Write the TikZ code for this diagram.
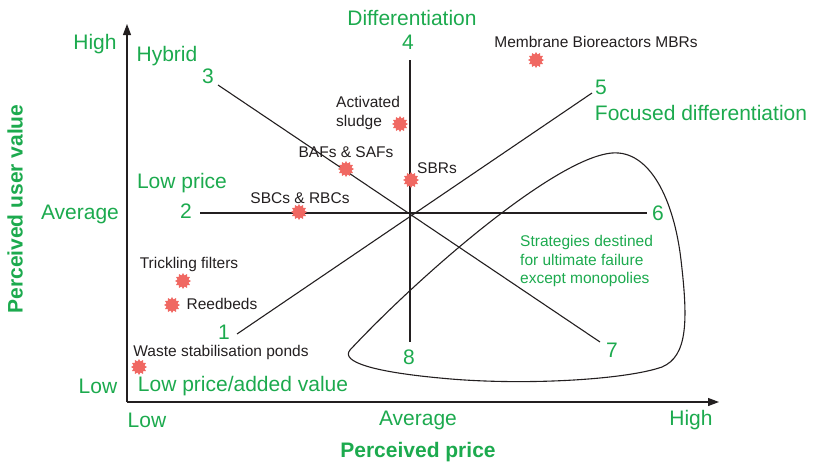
\documentclass[tikz,border=0pt]{standalone}
\usepackage{fontspec}
\setmainfont{Liberation Sans}
\usetikzlibrary{arrows.meta,shapes.geometric}
\definecolor{lblgreen}{RGB}{28,170,78}
\definecolor{starred}{RGB}{240,104,98}
\definecolor{inkgray}{RGB}{35,31,32}
\tikzset{
	bigtxt/.style={text=lblgreen, inner sep=0pt, font=\fontsize{21}{24}\selectfont},
	axtitle/.style={text=lblgreen, inner sep=0pt, font=\fontsize{21}{24}\selectfont\bfseries},
	smalltxt/.style={text=inkgray, inner sep=0pt, font=\fontsize{15.5}{18.5}\selectfont},
	plant/.style={star, star points=12, star point ratio=1.4, minimum size=16pt, inner sep=0pt, fill=starred, draw=none},
	ray/.style={line width=1.1pt, color=inkgray},
}

\begin{document}
\begin{tikzpicture}[x=1pt, y=-1pt]
		%%%%% START %%%%%
		\useasboundingbox (0, 0) rectangle (813, 463);
		
		% axes
		\coordinate (o) at (127, 402);
		\coordinate (ytop) at (127, 24);
		\coordinate (xend) at (719, 402);
		\draw[line width=1.1pt, color=inkgray, -{Triangle[length=11pt, width=8pt]}] (o) -- (ytop);
		\draw[line width=1.1pt, color=inkgray, -{Triangle[length=11pt, width=8pt]}] (o) -- (xend);
		
		\node[bigtxt] (yhigh) at (95, 44) {High};
		\node[bigtxt] (yavg) at (80, 214) {Average};
		\node[bigtxt] (ylow) at (98, 386) {Low};
		\node[bigtxt] (xlow) at (147, 420) {Low};
		\node[bigtxt] (xavg) at (418, 420) {Average};
		\node[bigtxt] (xhigh) at (691, 420) {High};
		\node[axtitle] (xtitle) at (418, 452) {Perceived price};
		\node[axtitle, rotate=90] (ytitle) at (15, 209) {Perceived user value};
		
		% strategy clock
		\coordinate (e1) at (237, 334);
		\coordinate (e2) at (200, 213);
		\coordinate (e3) at (218, 85);
		\coordinate (e4) at (410, 60);
		\coordinate (e5) at (592, 93);
		\coordinate (e6) at (647, 213);
		\coordinate (e7) at (600, 342);
		\coordinate (e8) at (410, 342);
		\draw[ray] (e1) -- (e5);
		\draw[ray] (e2) -- (e6);
		\draw[ray] (e3) -- (e7);
		\draw[ray] (e4) -- (e8);
		
		\node[bigtxt] (n1) at (224, 332) {1};
		\node[bigtxt] (n2) at (186, 211) {2};
		\node[bigtxt] (n3) at (208, 76) {3};
		\node[bigtxt] (n4) at (408, 42) {4};
		\node[bigtxt] (n5) at (601, 87) {5};
		\node[bigtxt] (n6) at (658, 213) {6};
		\node[bigtxt] (n7) at (612, 350) {7};
		\node[bigtxt] (n8) at (409, 357) {8};
		
		\node[bigtxt] (lowadd) at (243, 386) {Low price/added value};
		\node[bigtxt] (lowprice) at (182, 183) {Low price};
		\node[bigtxt] (hybrid) at (167, 56) {Hybrid};
		\node[bigtxt] (diff) at (412, 18) {Differentiation};
		\node[bigtxt] (focus) at (701, 113) {Focused differentiation};
		
		% failure zone
		\draw[line width=1.1pt, color=inkgray] (350, 350) .. controls (420, 275) and (555, 158) .. (612, 153)
			.. controls (650, 150) and (674, 200) .. (681, 260)
			.. controls (688, 320) and (688, 356) .. (662, 367)
			.. controls (625, 380) and (520, 386) .. (440, 378)
			.. controls (375, 372) and (340, 362) .. (350, 350);
		\node[text=lblgreen, inner sep=0pt, font=\fontsize{15.5}{18.5}\selectfont, align=left, anchor=west] (fail) at (520, 261) {Strategies destined\\for ultimate failure\\except monopolies};
		
		% processes
		\node[plant] (mbr) at (536, 60) {};
		\node[smalltxt] (mbrlbl) at (596, 42) {Membrane Bioreactors MBRs};
		\node[plant] (as) at (400, 124) {};
		\node[smalltxt, align=left, anchor=west] (aslbl) at (336, 113) {Activated\\sludge};
		\node[plant] (baf) at (346, 169) {};
		\node[smalltxt] (baflbl) at (346, 152) {BAFs \& SAFs};
		\node[plant] (sbr) at (411, 180) {};
		\node[smalltxt] (sbrlbl) at (437, 168) {SBRs};
		\node[plant] (sbc) at (299, 212) {};
		\node[smalltxt] (sbclbl) at (300, 198) {SBCs \& RBCs};
		\node[plant] (tf) at (183, 281) {};
		\node[smalltxt] (tflbl) at (189, 264) {Trickling filters};
		\node[plant] (reed) at (172, 305) {};
		\node[smalltxt] (reedlbl) at (222, 304) {Reedbeds};
		\node[plant] (wsp) at (139, 367) {};
		\node[smalltxt] (wsplbl) at (221, 352) {Waste stabilisation ponds};
		
		%%%%% END %%%%%
	\end{tikzpicture}
\end{document}
